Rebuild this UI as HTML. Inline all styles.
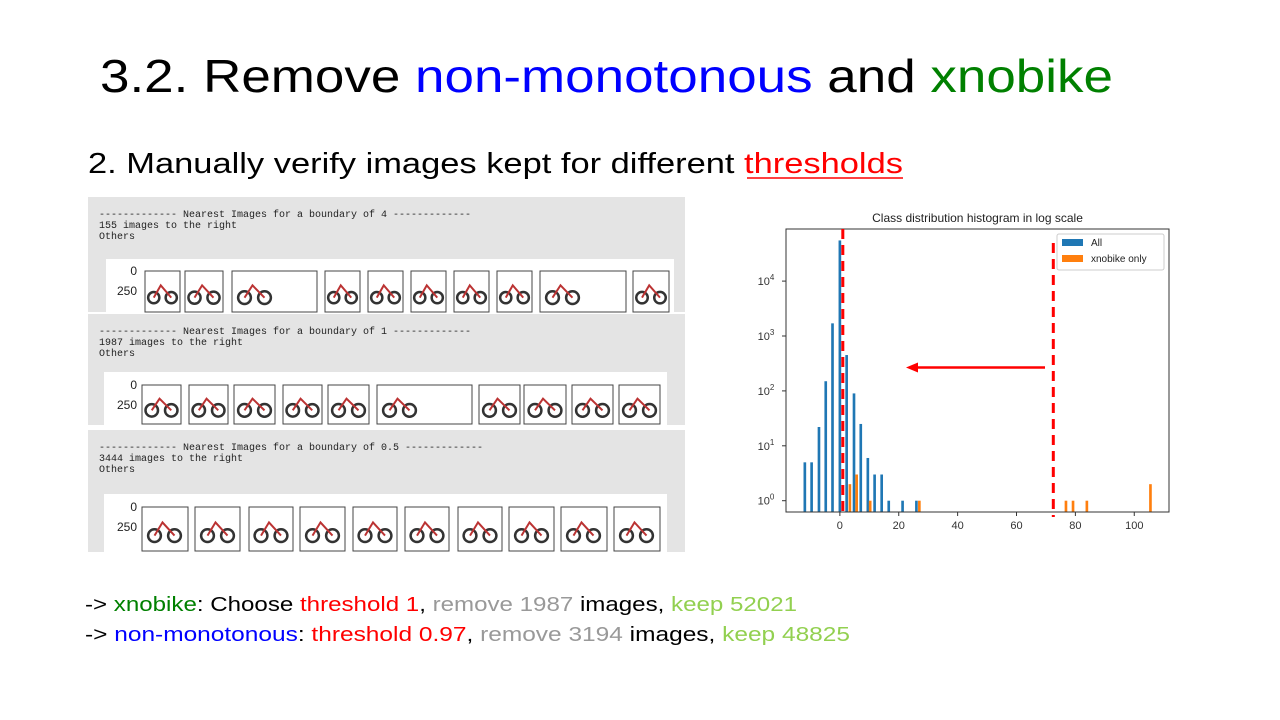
<!DOCTYPE html>
<html><head><meta charset="utf-8"><style>
html,body{margin:0;padding:0;background:#fff;width:1280px;height:720px;overflow:hidden}
svg{display:block;font-family:"Liberation Sans",sans-serif}
.mono{font-family:"Liberation Mono",monospace;font-size:10px;fill:#222}
</style></head><body>
<svg id="s" width="1280" height="720" viewBox="0 0 1280 720">
<text x="100" y="92" font-size="46" textLength="1013" lengthAdjust="spacingAndGlyphs">3.2. Remove <tspan fill="#0000ff">non-monotonous</tspan> and <tspan fill="#008000">xnobike</tspan></text>
<text x="88" y="173" font-size="29" textLength="815" lengthAdjust="spacingAndGlyphs">2. Manually verify images kept for different <tspan fill="#ff0000">thresholds</tspan></text>
<line x1="747" y1="178" x2="903" y2="178" stroke="#ff0000" stroke-width="1.5"/>
<g id="panels"></g>
<g id="chart"></g>
<text x="85" y="611" font-size="20" textLength="712" lengthAdjust="spacingAndGlyphs">-&gt; <tspan fill="#008000">xnobike</tspan>: Choose <tspan fill="#ff0000">threshold 1</tspan>, <tspan fill="#999999">remove 1987</tspan> images, <tspan fill="#92d050">keep 52021</tspan></text>
<text x="85" y="641" font-size="20" textLength="765" lengthAdjust="spacingAndGlyphs">-&gt; <tspan fill="#0000ff">non-monotonous</tspan>: <tspan fill="#ff0000">threshold 0.97</tspan>, <tspan fill="#999999">remove 3194</tspan> images, <tspan fill="#92d050">keep 48825</tspan></text>
</svg>
<script>
const NS="http://www.w3.org/2000/svg";
function mk(tag,attrs,parent){const e=document.createElementNS(NS,tag);for(const k in attrs)e.setAttribute(k,attrs[k]);parent.appendChild(e);return e;}
// ---- panels ----
const panelTitles=["4","1","0.5"];
const panelCounts=["155","1987","3444"];
// [x,y,w,h, stripX, stripY, stripW, thumbTop, thumbBottom]
const panelBoxes=[[88,197,597,115,106,259,568,271,312],[88,314,597,111,104,372,563,385,424],[88,430,597,122,104,494,563,507,551]];
const thumbs=[
 [[145,35],[185,38],[232,85],[325,35],[368,35],[411,35],[454,35],[497,35],[540,86],[633,36]],
 [[142,39],[189,39],[234,41],[283,39],[328,41],[377,95],[479,41],[524,42],[572,41],[619,41]],
 [[142,46],[195,45],[249,44],[300,45],[353,44],[405,44],[458,44],[509,45],[561,46],[614,46]]
];
const pg=document.getElementById('panels');
panelBoxes.forEach((b,i)=>{
  const r=mk('rect',{x:b[0],y:b[1],width:b[2],height:b[3],fill:'#e4e4e4'},pg);
  
  
  const t=mk('text',{x:b[0]+11,y:b[1]+20,class:'mono'},pg);
  t.textContent="------------- Nearest Images for a boundary of "+panelTitles[i]+" -------------";
  
  
  const t2=mk('text',{x:b[0]+11,y:b[1]+31,class:'mono'},pg);
  t2.textContent=panelCounts[i]+" images to the right";
  
  
  const t3=mk('text',{x:b[0]+11,y:b[1]+42,class:'mono'},pg);
  t3.textContent="Others";
  
  
  const w=mk('rect',{x:b[4],y:b[5],width:b[6],height:b[1]+b[3]-b[5],fill:'#fff'},pg);
  
  
  const ty=b[7], th=b[8]-b[7];
  const l0=mk('text',{x:137,y:ty+4,'font-size':12,'text-anchor':'end',fill:'#222'},pg);l0.textContent='0';
  
  
  const l1=mk('text',{x:137,y:ty+24,'font-size':12,'text-anchor':'end',fill:'#222'},pg);l1.textContent='250';
  
  
  thumbs[i].forEach(tw=>{
    const x=tw[0], wd=tw[1];
    const tr=mk('rect',{x:x,y:ty,width:wd,height:th,fill:'#fff',stroke:'#444','stroke-width':1},pg);
    
    
    const c=Math.min(wd,40);
    const cx=x+Math.min(wd,45)/2;
    const w1=mk('circle',{cx:cx-c*0.25,cy:ty+th*0.65,r:c*0.16,fill:'none',stroke:'#333','stroke-width':2.5},pg);
    
    
    const w2=mk('circle',{cx:cx+c*0.25,cy:ty+th*0.65,r:c*0.16,fill:'none',stroke:'#333','stroke-width':2.5},pg);
    
    
    const fr=mk('polyline',{points:`${cx-c*0.25},${ty+th*0.65} ${cx-c*0.05},${ty+th*0.35} ${cx+c*0.25},${ty+th*0.65}`,fill:'none',stroke:'#b33','stroke-width':2},pg);
    
    
  });
});
// ---- chart ----
const blueX=[-11.9,-9.6,-7.1,-4.8,-2.5,0,2.3,4.8,7.1,9.5,11.8,14.2,16.6,21.3,26];
const blueY=[5,5,22,150,1700,55000,450,90,25,6,3,3,1,1,1];
const orangeX=[3.4,5.7,10.3,27,76.8,79.2,83.9,105.5];
const orangeY=[2,3,1,1,1,1,1,2];
const xTicks=[0,20,40,60,80,100];
const yTicks=[0,1,2,3,4];
const thresholds=[1,72.5];
const L=786,R=1169,T=229,B=512;
const xmin=-18.3,xmax=111.8;
const X=v=>L+(v-xmin)/(xmax-xmin)*(R-L);
const y0=500.7,dec=54.9;
const Y=v=>y0-Math.log10(v)*dec;
const cg=document.getElementById('chart');
const ttl=mk('text',{x:(L+R)/2,y:222,'font-size':12,'text-anchor':'middle',fill:'#222'},cg);
ttl.textContent='Class distribution histogram in log scale';


const bw=0.9*(R-L)/(xmax-xmin);
blueX.forEach((v,i)=>{
  const r=mk('rect',{x:X(v)-bw/2,y:Y(blueY[i]),width:bw,height:B-Y(blueY[i]),fill:'#1f77b4'},cg);
  
  
});
orangeX.forEach((v,i)=>{
  const r=mk('rect',{x:X(v)-bw/2,y:Y(orangeY[i]),width:bw,height:B-Y(orangeY[i]),fill:'#ff7f0e'},cg);
  
  
});
const fr=mk('rect',{x:L,y:T,width:R-L,height:B-T,fill:'none',stroke:'#333','stroke-width':1},cg);


xTicks.forEach(v=>{
  const tk=mk('line',{x1:X(v),x2:X(v),y1:B,y2:B+4,stroke:'#333'},cg);
  
  
  const t=mk('text',{x:X(v),y:B+17,'font-size':11,'text-anchor':'middle',fill:'#333'},cg);
  t.textContent=v;
  
  
});
yTicks.forEach(e=>{
  const y=Y(Math.pow(10,e));
  const tk=mk('line',{x1:L-4,x2:L,y1:y,y2:y,stroke:'#333'},cg);
  
  
  const t=mk('text',{x:L-20,y:y+4,'font-size':11,'text-anchor':'middle',fill:'#333'},cg);
  t.textContent='10';
  const sp=mk('tspan',{dy:-5,'font-size':8},t);sp.textContent=e;
  
  
});
thresholds.forEach((v,i)=>{
  const ln=mk('line',{x1:X(v),x2:X(v),y1:i?243:T,y2:i?517:B,stroke:'#ff0000','stroke-width':3,'stroke-dasharray':'10,6'},cg);
  
  
});
const ar=mk('line',{x1:1045,y1:367.5,x2:916,y2:367.5,stroke:'#ff0000','stroke-width':2.5},cg);


const ah=mk('polygon',{points:'906,367.5 918,362.5 918,372.5',fill:'#ff0000'},cg);


const lg=mk('rect',{x:1057,y:234,width:107,height:36,fill:'#fff',stroke:'#ccc',rx:2},cg);


[['All','#1f77b4',243],['xnobike only','#ff7f0e',259]].forEach(d=>{
  const sw=mk('rect',{x:1062,y:d[2]-4,width:21,height:7,fill:d[1]},cg);
  
  
  const t=mk('text',{x:1091,y:d[2]+3,'font-size':10,fill:'#222'},cg);
  t.textContent=d[0];
  
  
});
</script>
</body></html>
